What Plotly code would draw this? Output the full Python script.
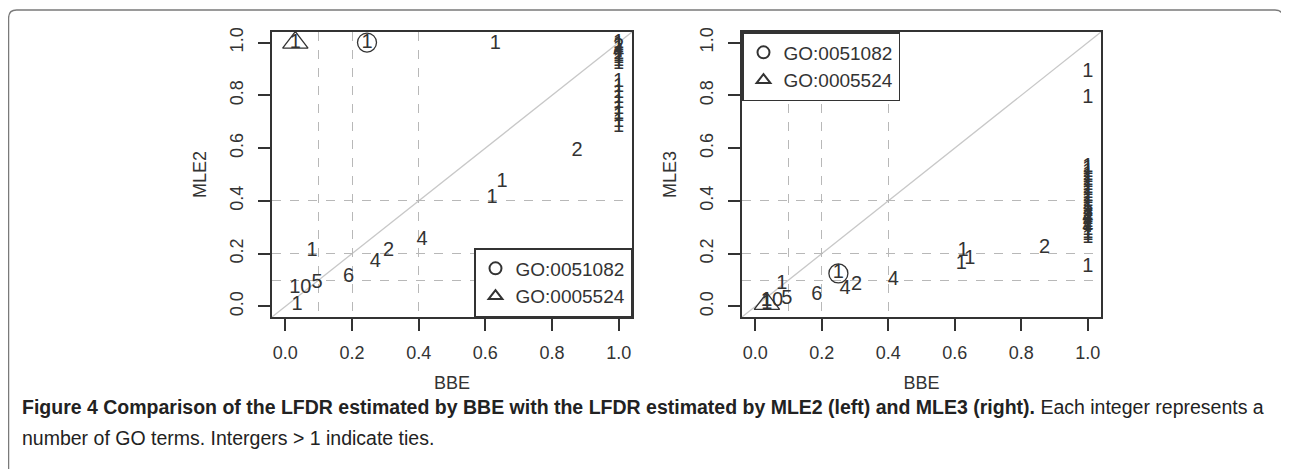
import plotly.graph_objects as go

# page body adds an 8px margin; the figure is sized and positioned so it fills the window
OFF = 8
W, H = 1289 - OFF, 469 - OFF

# ---------------- data ----------------
# Left panel: LFDR by BBE (x) vs LFDR by MLE2 (y); label = number of tied GO terms
mle2_bbe = [0.03, 0.245, 0.63, 0.875, 0.65, 0.62, 0.41, 0.31, 0.27, 0.19, 0.08, 0.095, 0.045, 0.035,
            1.0, 1.0, 1.0, 1.0, 1.0, 1.0, 1.0, 1.0, 1.0, 1.0,
            1.0, 1.0, 1.0, 1.0, 1.0, 1.0, 1.0, 1.0, 1.0, 1.0]
mle2_val = [1.0, 1.0, 0.995, 0.59, 0.47, 0.41, 0.25, 0.21, 0.17, 0.11, 0.21, 0.09, 0.07, 0.005,
            1.0, 0.99, 0.985, 0.975, 0.965, 0.955, 0.95, 0.94, 0.93, 0.92,
            0.85, 0.83, 0.81, 0.79, 0.77, 0.75, 0.73, 0.72, 0.70, 0.68]
mle2_ties = ["1", "1", "1", "2", "1", "1", "4", "2", "4", "6", "1", "5", "10", "1",
             "1", "1", "2", "1", "4", "1", "1", "1", "1", "1",
             "1", "1", "1", "1", "1", "1", "1", "1", "1", "1"]

# Right panel: LFDR by BBE (x) vs LFDR by MLE3 (y)
mle3_bbe = [0.035, 0.035, 0.25, 1.0, 1.0, 1.0, 0.87, 0.625, 0.645, 0.62, 0.415, 0.305, 0.27, 0.185,
            0.08, 0.095, 0.05,
            1.0, 1.0, 1.0, 1.0, 1.0, 1.0, 1.0, 1.0, 1.0, 1.0, 1.0, 1.0, 1.0, 1.0, 1.0,
            1.0, 1.0, 1.0, 1.0, 1.0, 1.0, 1.0, 1.0, 1.0, 1.0, 1.0, 1.0, 1.0, 1.0]
mle3_val = [0.01, 0.02, 0.125, 0.89, 0.79, 0.15, 0.22, 0.21, 0.18, 0.16, 0.10, 0.08, 0.065, 0.045,
            0.085, 0.03, 0.02,
            0.53, 0.52, 0.51, 0.50, 0.49, 0.48, 0.47, 0.46, 0.45, 0.44, 0.43, 0.42, 0.41, 0.40, 0.39,
            0.38, 0.37, 0.36, 0.35, 0.34, 0.335, 0.33, 0.32, 0.31, 0.30, 0.29, 0.28, 0.27, 0.26, 0.25]
mle3_ties = ["1", "1", "1", "1", "1", "1", "2", "1", "1", "1", "4", "2", "4", "6",
             "1", "5", "10",
             "1", "1", "1", "1", "1", "1", "1", "1", "1", "1", "1", "1", "1", "1", "1",
             "1", "1", "1", "2", "1", "4", "2", "1", "1", "4", "1", "1", "1", "1", "1"]

# Highlighted GO terms (BBE, MLE) per panel
go_terms = ["GO:0051082", "GO:0005524"]
go_symbols = ["circle-open", "triangle-up-open"]
hl_mle2_bbe = [0.245, 0.03]
hl_mle2_val = [1.0, 1.0]
hl_mle3_bbe = [0.25, 0.035]
hl_mle3_val = [0.125, 0.01]

grid_vals = [0.1, 0.2, 0.4]
tick_vals = [0.0, 0.2, 0.4, 0.6, 0.8, 1.0]
tick_text = ["0.0", "0.2", "0.4", "0.6", "0.8", "1.0"]

# ---------------- figure ----------------
INK = "#333333"
FONT = "Liberation Sans, Arial, sans-serif"
fig = go.Figure()

def add_panel(xs, ys, ties, hx, hy, xa, ya, legend_name):
    fig.add_trace(go.Scatter(
        x=xs, y=ys, text=ties, mode="text", xaxis=xa, yaxis=ya,
        textfont=dict(family=FONT, size=20, color=INK),
        textposition="middle center", showlegend=False, hoverinfo="x+y+text"))
    for i, name in enumerate(go_terms):
        fig.add_trace(go.Scatter(
            x=[hx[i]], y=[hy[i]], mode="markers", xaxis=xa, yaxis=ya,
            marker=dict(symbol=go_symbols[i], size=19 if i == 0 else 22,
                        color=INK, line=dict(color=INK, width=1.3)),
            name=name, legend=legend_name, showlegend=True))

add_panel(mle2_bbe, mle2_val, mle2_ties, hl_mle2_bbe, hl_mle2_val, "x", "y", "legend")
add_panel(mle3_bbe, mle3_val, mle3_ties, hl_mle3_bbe, hl_mle3_val, "x2", "y2", "legend2")

def px(x):
    return (x - OFF) / W

def py(y):
    return 1 - (y - OFF) / H

box_top, box_bot = 32, 317
left_box = (272, 632)
right_box = (742, 1101)

axis_common = dict(
    range=[-0.04, 1.04], tickmode="array", tickvals=tick_vals, ticktext=tick_text,
    ticks="outside", ticklen=12, tickwidth=1.5, tickcolor=INK,
    showline=True, mirror=True, linecolor=INK, linewidth=1.5,
    showgrid=False, zeroline=False, automargin=False,
    tickfont=dict(family=FONT, size=18, color=INK),
    minor=dict(tickmode="array", tickvals=grid_vals, showgrid=True, gridcolor="#b8b8b8",
               gridwidth=1.3, griddash="dash", ticks=""),
)

layout_axes = {}
for i, (bx, ylab) in enumerate([(left_box, "MLE2"), (right_box, "MLE3")]):
    sfx = "" if i == 0 else str(i + 1)
    layout_axes["xaxis" + sfx] = dict(
        axis_common, domain=[px(bx[0]), px(bx[1])],
        anchor="y" + sfx, ticklabelstandoff=7,
        title=dict(text="BBE", font=dict(family=FONT, size=18, color=INK), standoff=14))
    layout_axes["yaxis" + sfx] = dict(
        axis_common, domain=[py(box_bot), py(box_top)],
        anchor="x" + sfx, tickangle=-90, ticklabelstandoff=8,
        title=dict(text=ylab, font=dict(family=FONT, size=18, color=INK), standoff=16))

legend_common = dict(
    bgcolor="white", bordercolor=INK, borderwidth=1.5,
    font=dict(family=FONT, size=19, color=INK), itemsizing="constant",
    tracegroupgap=0, itemclick=False, itemdoubleclick=False,
)

fig.update_layout(
    width=W, height=H,
    margin=dict(l=0, r=0, t=0, b=0),
    paper_bgcolor="white", plot_bgcolor="white",
    showlegend=True,
    legend=dict(legend_common, x=px(left_box[1]), xanchor="right",
                y=py(box_bot), yanchor="bottom"),
    legend2=dict(legend_common, x=px(right_box[0]), xanchor="left",
                 y=py(box_top), yanchor="top"),
    **layout_axes,
)

# y = x reference lines (panel diagonals; axes share identical ranges)
for xr, yr in [("x domain", "y domain"), ("x2 domain", "y2 domain")]:
    fig.add_shape(type="line", xref=xr, yref=yr, x0=0, y0=0, x1=1, y1=1,
                  line=dict(color="#c8c8c8", width=1.3), layer="below")

# outer rounded frame of the figure panel
fx0, fx1, fy0, fy1, r = 8.6, 1283, 10, 490, 8
path = (f"M {px(fx0)},{py(fy1)} L {px(fx0)},{py(fy0 + r)} "
        f"Q {px(fx0)},{py(fy0)} {px(fx0 + r)},{py(fy0)} "
        f"L {px(fx1 - r)},{py(fy0)} Q {px(fx1)},{py(fy0)} {px(fx1)},{py(fy0 + r)} "
        f"L {px(fx1)},{py(fy1)}")
fig.add_shape(type="path", xref="paper", yref="paper", path=path,
              line=dict(color="#7a7a7a", width=1.3))

CAP_FONT = "Liberation Sans, Arial, sans-serif"
fig.add_annotation(
    xref="paper", yref="paper", x=px(20), y=py(407), xanchor="left", yanchor="middle",
    showarrow=False, align="left",
    text="<b>Figure 4 Comparison of the LFDR estimated by BBE with the LFDR estimated by "
         "MLE2 (left) and MLE3 (right).</b> Each integer represents a",
    font=dict(family=CAP_FONT, size=19.5, color="#222222"))
fig.add_annotation(
    xref="paper", yref="paper", x=px(20), y=py(438), xanchor="left", yanchor="middle",
    showarrow=False, align="left",
    text="number of GO terms. Intergers &gt; 1 indicate ties.",
    font=dict(family=CAP_FONT, size=19.5, color="#222222"))

fig.write_html("out.html")
